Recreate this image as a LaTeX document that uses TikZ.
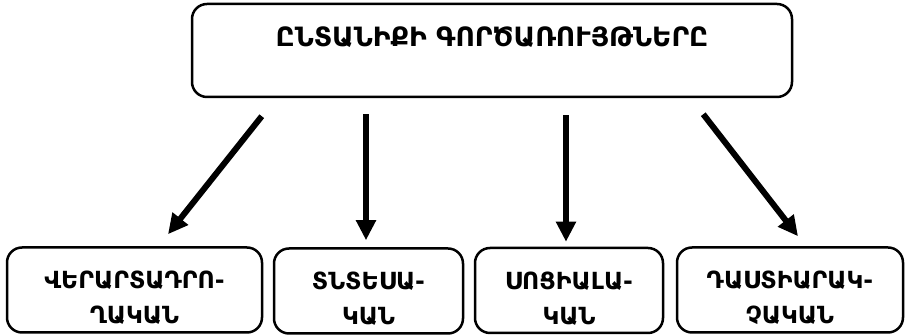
\documentclass[tikz,border=0pt]{standalone}
\usepackage{fontspec}
\setmainfont{DejaVu Sans}
\usetikzlibrary{positioning,arrows.meta}

\tikzset{
  famtop/.style={draw, line width=1.25pt, rounded corners=7.5pt, align=center,
    minimum width=300pt, minimum height=46.5pt,
    font=\fontsize{13.3}{17}\selectfont\bfseries},
  famsub/.style={draw, line width=1.25pt, rounded corners=7.5pt, align=center,
    minimum height=42.5pt, inner sep=0pt, text height=34pt,
    font=\fontsize{11.8}{17.5}\selectfont\bfseries},
  famarrow/.style={line width=3pt, -{Triangle[length=10pt,width=9.5pt]}}
}

\begin{document}
\begin{tikzpicture}[x=0.5pt, y=-0.5pt]
\useasboundingbox (0,0) rectangle (906,335);
% Nodes
\node[famtop, text depth=14pt] (top) at (492,50.5) {ԸՆՏԱՆԻՔԻ ԳՈՐԾԱՌՈՒՅԹՆԵՐԸ};
\node[famsub, minimum width=127.5pt] (repr) at (134.5,290) {ՎԵՐԱՐՏԱԴՐՈ-\\ՂԱԿԱՆ};
\node[famsub, minimum width=94.5pt] (econ) at (368.5,291) {ՏՆՏԵՍԱ-\\ԿԱՆ};
\node[famsub, minimum width=94pt] (soc) at (569,290.5) {ՍՈՑԻԱԼԱ-\\ԿԱՆ};
\node[famsub, minimum width=113pt] (educ) at (790,290) {ԴԱՍՏԻԱՐԱԿ-\\ՉԱԿԱՆ};
% Arrows
\draw[famarrow] ([xshift=35.5pt, yshift=-9pt]top.south west) -- ([xshift=16.75pt, yshift=6pt]repr.north);
\draw[famarrow] ([xshift=-1.25pt, yshift=-8pt]top.south -| econ.north) -- ([xshift=-1.25pt, yshift=3.5pt]econ.north);
\draw[famarrow] ([xshift=-1.5pt, yshift=-8.5pt]top.south -| soc.north) -- ([xshift=-1.5pt, yshift=2.5pt]soc.north);
\draw[famarrow] ([xshift=-45pt, yshift=-8pt]top.south east) -- ([xshift=4pt, yshift=5pt]educ.north);
\end{tikzpicture}
\end{document}
